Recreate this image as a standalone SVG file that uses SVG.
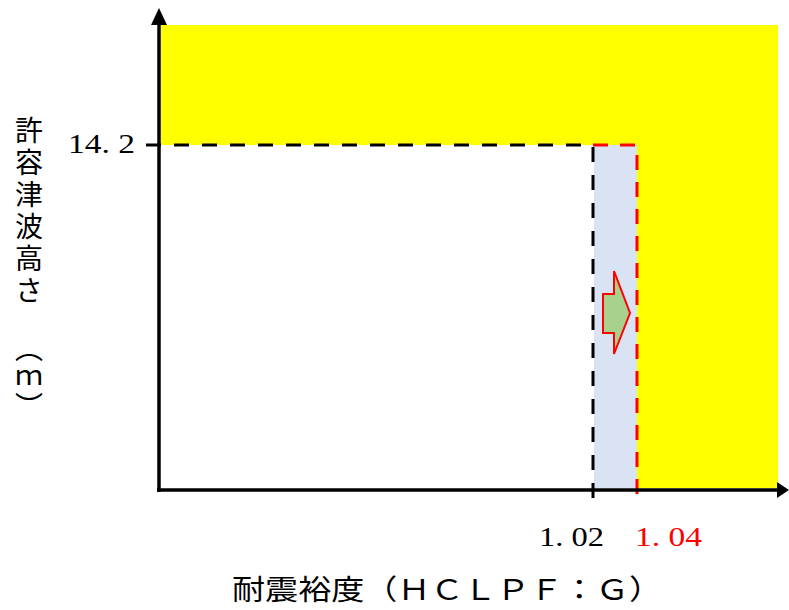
<svg xmlns="http://www.w3.org/2000/svg" width="789" height="610" viewBox="0 0 789 610">
<style>
.ax{stroke:#000;stroke-width:3.5;fill:none}
.dk{stroke:#000;stroke-width:3;fill:none;stroke-dasharray:15 13}
.dr{stroke:#FF0000;stroke-width:3;fill:none;stroke-dasharray:15 12}
.num{font-family:"Liberation Serif",serif;font-size:28px}
.jp{font-family:"Noto Sans CJK JP",sans-serif;font-size:28px;fill:#000}
.vt{writing-mode:vertical-rl}
</style>
<rect width="789" height="610" fill="#fff"/>
<g id="regions">
<rect x="161" y="25" width="617" height="463" fill="#FFFF00"/>
<rect x="161" y="145" width="433" height="343" fill="#fff"/>
<rect x="594" y="145" width="43" height="343" fill="#DAE3F3"/>
</g>
<g id="connectors">
<path class="dk" d="M146 145H594"/>
<path class="dk" d="M593 147V500"/>
<path class="dr" d="M593 145H637V501"/>
<line class="ax" x1="159" y1="22" x2="159" y2="492"/>
<line class="ax" x1="157" y1="490" x2="778" y2="490"/>
<polygon points="159,8 151,25 167,25" fill="#000"/>
<polygon points="789,490 777,482 777,498" fill="#000"/>
</g>
<g id="arrow">
<polygon points="603,294 614,294 614,271 630,313 614,354 614,333 603,333" fill="#A9D18E" stroke="#FF0000" stroke-width="2" stroke-linejoin="miter"/>
</g>
<g id="labels">
<text class="num" x="68" y="153" textLength="67" lengthAdjust="spacingAndGlyphs">14. 2</text>
<text class="num" x="539" y="546" textLength="65" lengthAdjust="spacingAndGlyphs">1. 02</text>
<text class="num" x="635" y="546" textLength="67" lengthAdjust="spacingAndGlyphs" fill="#FF0000">1. 04</text>
<text class="jp" x="232" y="600" textLength="430" lengthAdjust="spacingAndGlyphs">耐震裕度（ＨＣＬＰＦ：Ｇ）</text>
<text class="jp vt" x="29" y="116" letter-spacing="4">許容津波高さ</text>
<text class="jp vt" x="29" y="334" letter-spacing="1">（ｍ）</text>
</g>
</svg>
